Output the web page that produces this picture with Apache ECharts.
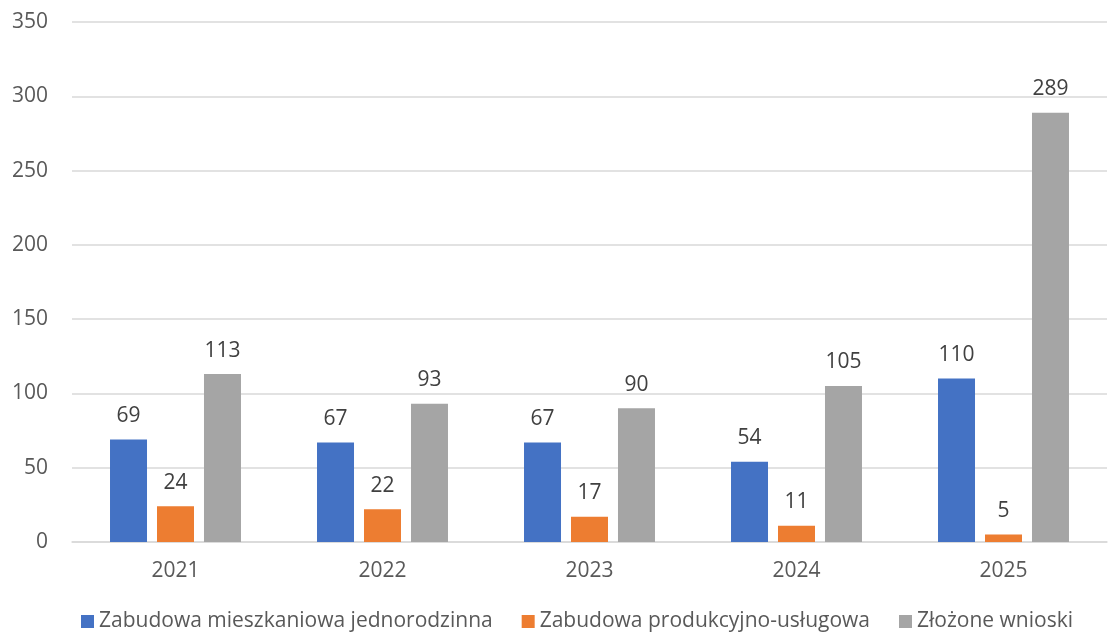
<!DOCTYPE html>
<html><head><meta charset="utf-8">
<script src="https://cdn.jsdelivr.net/npm/echarts@6/dist/echarts.min.js"></script>
<style>html,body{margin:0;padding:0;background:#fff}#c{width:1108px;height:639px}</style>
</head><body><div id="c"></div>
<script>
const categories = ['2021','2022','2023','2024','2025'];
const seriesNames = ['Zabudowa mieszkaniowa jednorodzinna','Zabudowa produkcyjno-usługowa','Złożone wnioski'];
const mieszkaniowa = [69, 67, 67, 54, 110];
const produkcyjna = [24, 22, 17, 11, 5];
const wnioski = [113, 93, 90, 105, 289];
const colors = ['#4472C4','#ED7D31','#A5A5A5'];
const font = 'Open Sans, Liberation Sans, sans-serif';
const chart = echarts.init(document.getElementById('c'));
const mk = (name, data, i) => ({
  name, type:'bar', data, barWidth:37, barGap:'27%',
  itemStyle:{color:colors[i]},
  label:{show:true, position:'top', distance:13, color:'#404040', fontSize:21, fontFamily:font}
});
chart.setOption({
  animation:false,
  textStyle:{fontFamily:font},
  grid:{left:72, right:1, top:22, bottom:97, containLabel:false},
  legend:{bottom:2, left:76, itemWidth:13, itemHeight:13, itemGap:29, icon:'rect',
    textStyle:{color:'#595959', fontSize:21, fontFamily:font}},
  xAxis:{type:'category', data:categories,
    axisLine:{lineStyle:{color:'#D9D9D9', width:1.5}}, axisTick:{show:false},
    axisLabel:{color:'#595959', fontSize:21, margin:19, fontFamily:font}},
  yAxis:{type:'value', min:0, max:350, interval:50,
    axisLine:{show:false}, axisTick:{show:false},
    splitLine:{lineStyle:{color:'#D9D9D9', width:1.5}},
    axisLabel:{color:'#595959', fontSize:21, margin:24, fontFamily:font}},
  series:[mk(seriesNames[0], mieszkaniowa, 0), mk(seriesNames[1], produkcyjna, 1), mk(seriesNames[2], wnioski, 2)]
});
</script></body></html>
